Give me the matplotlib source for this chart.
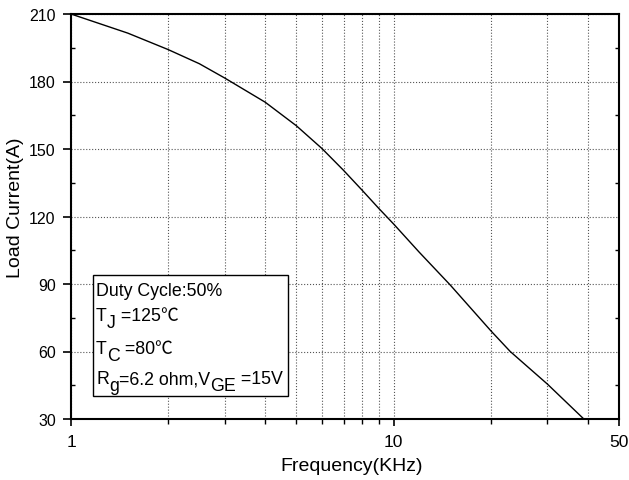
import numpy as np
import matplotlib
matplotlib.use("Agg")
import matplotlib.pyplot as plt
from matplotlib.patches import Rectangle
from matplotlib.transforms import offset_copy

plt.rcParams['font.family'] = ['Liberation Sans', 'DejaVu Sans']

# values
freq = [1, 1.5, 2, 2.5, 3, 4, 5, 6, 7, 8, 9, 10, 12, 15, 20, 23, 30, 38.9]
current = [210, 201.5, 194.2, 187.9, 181.5, 170.8, 160.3, 150.2, 140.5, 131.6, 123.6, 116.7,
           104.2, 89.5, 69.3, 60, 45.5, 30]

xticks = [1, 10, 50]
xticklabels = ['1', '10', '50']
xminor = [2, 3, 4, 5, 6, 7, 8, 9, 20, 30, 40]
yticks = [30, 60, 90, 120, 150, 180, 210]
yminor = [45, 75, 105, 135, 165, 195]

fig = plt.figure(figsize=(6.29, 4.81), dpi=100)
ax = fig.add_axes([71/629, 1-420/481, 548/629, 405/481])

ax.plot(freq, current, color='black', lw=1.0)

ax.set_xscale('log')
ax.set_xlim(1, 50)
ax.set_ylim(30, 210)
ax.set_xticks(xticks)
ax.set_xticklabels(xticklabels)
ax.set_xticks(xminor, minor=True)
ax.xaxis.set_minor_formatter(matplotlib.ticker.NullFormatter())
ax.set_yticks(yticks)
ax.set_yticks(yminor, minor=True)

ax.grid(True, which='both', axis='x', ls=':', color='#555555', lw=0.8)
ax.grid(True, which='major', axis='y', ls=':', color='#555555', lw=0.8)

for s in ax.spines.values():
    s.set_linewidth(1.5)

ax.tick_params(axis='x', which='major', direction='out', length=5, width=1.2, top=False,
               labelsize=12.5, pad=6)
ax.tick_params(axis='x', which='minor', direction='out', length=3.5, width=1.0, top=False)
ax.tick_params(axis='y', which='major', direction='out', length=6, width=1.2, right=False,
               labelsize=11.5, pad=5)
ax.tick_params(axis='y', which='minor', direction='in', length=3, width=1.0, left=True, right=True)

ax.set_xlabel('Frequency(KHz)', fontsize=14)
ax.xaxis.set_label_coords(0.513, -0.093)
ax.xaxis.label.set_va('top')
ax.set_ylabel('Load Current(A)', fontsize=14)
ax.yaxis.set_label_coords(-0.086, 0.523)

# parameter box
ax.add_patch(Rectangle((22/548, 23/405), 195/548, 121/405, transform=ax.transAxes,
                       facecolor='white', edgecolor='black', lw=1.0, zorder=5))

renderer = fig.canvas.get_renderer()
fs = 12.8
cjk = ['Noto Sans CJK SC', 'DejaVu Sans']
sans = ['Liberation Sans', 'DejaVu Sans']


def advance(txt, fam):
    a = fig.text(0, 0, '|' + txt + '|', fontsize=fs, family=fam)
    b = fig.text(0, 0, '||', fontsize=fs, family=fam)
    w = a.get_window_extent(renderer).width - b.get_window_extent(renderer).width
    a.remove()
    b.remove()
    return w


def draw_line(x0, y0, pieces):
    dx = 0
    for txt, dy, fam in pieces:
        tr = offset_copy(ax.transAxes, fig=fig, x=dx, y=dy, units='dots')
        ax.text(x0, y0, txt, transform=tr, fontsize=fs, family=fam, va='baseline', zorder=6)
        dx += advance(txt, fam)


sub = -7
x0 = 25/548
draw_line(x0, 0.306, [('Duty Cycle:50%', 0, sans)])
draw_line(x0, 0.245, [('T', 0, sans), ('J', sub, sans), (' =125', 0, sans), ('℃', 0, cjk)])
draw_line(x0, 0.162, [('T', 0, sans), ('C', sub, sans), (' =80', 0, sans), ('℃', 0, cjk)])
draw_line(x0, 0.088, [('R', 0, sans), ('g', sub, sans), ('=6.2 ohm,V', 0, sans),
                      ('GE', sub, sans), (' =15V', 0, sans)])

fig.savefig('out.png', dpi=100)
